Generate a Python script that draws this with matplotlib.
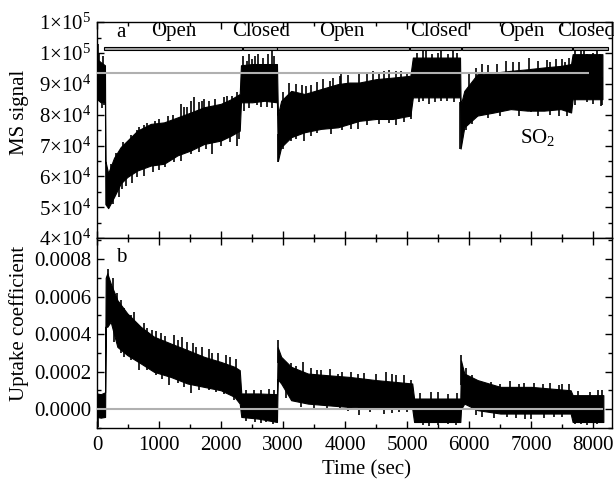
import matplotlib
matplotlib.use("Agg")
import matplotlib.pyplot as plt
import numpy as np
from matplotlib.patches import Rectangle

plt.rcParams['font.family'] = ['Liberation Serif', 'DejaVu Serif']
plt.rcParams['mathtext.fontset'] = 'custom'
plt.rcParams['mathtext.rm'] = 'Liberation Serif'
plt.rcParams['mathtext.it'] = 'Liberation Serif:italic'

# ---- data ----
# (a) MS signal envelope, in units of 1e4
t_ms = [0, 60, 128, 135, 180, 274, 382, 489, 650, 866, 1081, 1296, 1511, 1726, 1995,
        2161, 2300, 2320, 2500, 2700, 2900, 2915, 2968, 3129, 3344, 3613, 3882, 4065,
        4226, 4495, 4763, 5050, 5090, 5400, 5700, 5850, 5860, 5919, 6129, 6398, 6667,
        6935, 7204, 7473, 7640, 7665, 7900, 8145]
ms_hi = [9.8, 9.7, 9.6, 6.5, 6.1, 6.6, 6.95, 7.16, 7.48, 7.70, 7.75, 7.91, 8.07, 8.24,
         8.35, 8.50, 8.67, 9.60, 9.64, 9.64, 9.64, 8.0, 8.45, 8.77, 8.67, 8.83, 8.99,
         9.04, 9.04, 9.15, 9.20, 9.26, 9.85, 9.85, 9.85, 9.85, 8.3, 8.77, 9.31, 9.36,
         9.42, 9.47, 9.53, 9.58, 9.64, 9.96, 9.96, 9.96]
ms_lo = [8.5, 8.4, 8.4, 5.1, 4.97, 5.33, 5.77, 5.98, 6.19, 6.35, 6.41, 6.68, 6.84, 7.05,
         7.16, 7.32, 7.48, 8.40, 8.40, 8.45, 8.40, 6.5, 6.95, 7.27, 7.43, 7.54, 7.59,
         7.70, 7.80, 7.86, 7.86, 7.97, 8.56, 8.56, 8.56, 8.56, 6.9, 7.59, 7.97, 8.07,
         8.18, 8.13, 8.13, 8.18, 8.07, 8.50, 8.50, 8.50]
# spikes sticking out of the band (time, value)
ms_up_t = [20, 40, 100, 230, 300, 420, 540, 650, 677, 760, 811, 930, 1000, 1150, 1220,
           1350, 1400, 1450, 1511, 1565, 1640, 1685, 1726, 1800, 1900, 2048, 2100, 2180,
           2250, 2350, 2425, 2450, 2505, 2550, 2600, 2670, 2750, 2828, 2850, 3000, 3102,
           3200, 3300, 3371, 3450, 3550, 3650, 3747, 3800, 3909, 3930, 4050, 4226, 4350,
           4450, 4550, 4629, 4700, 4817, 4900, 5000, 5150, 5247, 5300, 5400, 5489, 5550,
           5650, 5731, 5800, 6000, 6100, 6204, 6300, 6450, 6591, 6700, 6800, 6968, 7100,
           7250, 7300, 7398, 7500, 7535, 7600, 7700, 7795, 7850, 7900, 7988, 8050, 8100]
ms_up_v = [10.3, 10.0, 9.9, 6.4, 6.75, 7.1, 7.35, 7.5, 7.6, 7.65, 7.72, 7.8, 7.85, 7.95,
           8.0, 8.35, 8.24, 8.25, 8.45, 8.56, 8.4, 8.45, 8.5, 8.45, 8.5, 8.56, 8.6, 8.6,
           8.75, 9.9, 9.75, 9.95, 9.8, 9.9, 9.95, 9.85, 9.95, 10.1, 9.9, 8.75, 9.04,
           9.0, 8.95, 8.93, 8.95, 9.05, 9.15, 9.1, 9.2, 9.26, 9.31, 9.3, 9.36, 9.35,
           9.4, 9.38, 9.42, 9.45, 9.42, 9.4, 9.31, 10.0, 10.1, 10.05, 9.95, 10.0, 10.05,
           9.95, 10.1, 10.0, 9.35, 9.5, 9.64, 9.6, 9.65, 9.74, 9.7, 9.72, 9.85, 9.75,
           9.78, 9.72, 9.8, 9.8, 9.7, 9.85, 10.05, 10.1, 10.05, 9.95, 10.0, 10.05, 9.95]
ms_dn_t = [80, 120, 250, 355, 400, 470, 560, 650, 750, 900, 1000, 1100, 1242, 1350, 1511,
           1645, 1750, 1855, 2000, 2150, 2260, 2290, 2370, 2450, 2585, 2650, 2747, 2820,
           2914, 3000, 3129, 3200, 3339, 3450, 3550, 3768, 3950, 4100, 4199, 4350, 4550,
           4700, 4817, 4950, 5059, 5194, 5250, 5355, 5450, 5550, 5645, 5750, 5855, 5950,
           6050, 6129, 6300, 6500, 6800, 6989, 7100, 7300, 7450, 7581, 7700, 7900, 8000,
           8118, 8145]
ms_dn_v = [8.2, 8.3, 5.1, 5.33, 5.6, 5.68, 5.8, 5.98, 6.0, 6.15, 6.2, 6.3, 6.46, 6.5,
           6.73, 6.78, 6.9, 6.74, 7.0, 7.1, 7.0, 7.2, 8.13, 8.2, 8.3, 8.25, 8.24, 8.2,
           6.46, 6.9, 7.16, 7.2, 7.16, 7.3, 7.4, 7.38, 7.5, 7.55, 7.54, 7.65, 7.7, 7.72,
           7.65, 7.75, 7.86, 8.4, 8.45, 8.35, 8.4, 8.45, 8.45, 8.4, 6.89, 7.5, 7.7, 7.91,
           7.9, 7.95, 7.95, 8.07, 7.95, 8.0, 7.95, 7.97, 8.3, 8.4, 8.35, 8.29, 8.3]
ms_ref = 9.35

# (b) uptake coefficient envelope, in units of 1e-4
t_up = [0, 60, 130, 140, 166, 220, 328, 489, 705, 919, 1188, 1457, 1726, 1995, 2215, 2300,
        2325, 2600, 2900, 2912, 2968, 3129, 3398, 3721, 4069, 4500, 5080, 5110, 5500,
        5855, 5866, 5919, 6134, 6500, 7000, 7633, 7665, 8160]
up_hi = [0.84, 0.80, 0.90, 7.0, 7.24, 6.70, 5.81, 5.10, 4.39, 3.86, 3.50, 3.15, 2.79,
         2.52, 2.26, 2.08, 0.84, 0.84, 0.80, 3.3, 2.79, 2.26, 1.90, 1.81, 1.72, 1.55,
         1.37, 0.57, 0.57, 0.57, 2.6, 1.90, 1.55, 1.19, 1.19, 1.01, 0.75, 0.75]
up_lo = [-0.41, -0.45, -0.41, 4.4, 4.39, 4.66, 3.32, 2.88, 2.44, 1.99, 1.72, 1.37, 1.19,
         1.01, 0.66, 0.30, -0.41, -0.50, -0.68, 1.6, 1.37, 0.48, 0.30, 0.21, 0.12, 0.04,
         0.04, -0.68, -0.68, -0.68, 0.0, 0.30, -0.05, -0.23, -0.23, -0.23, -0.68, -0.68]
up_up_t = [180, 250, 328, 380, 435, 550, 600, 650, 750, 811, 880, 950, 1027, 1100, 1242,
           1300, 1376, 1450, 1550, 1591, 1700, 1800, 1860, 1950, 2081, 2150, 2242, 2400,
           2537, 2650, 2770, 2850, 2914, 3050, 3129, 3200, 3317, 3450, 3550, 3613, 3750,
           3882, 3950, 4100, 4199, 4300, 4500, 4650, 4750, 4817, 4950, 5059, 5200, 5381,
           5500, 5650, 5800, 5866, 5950, 6050, 6237, 6350, 6500, 6650, 6800, 6882, 7050,
           7180, 7300, 7447, 7500, 7608, 7750, 7950, 8080, 8145]
up_up_v = [7.45, 7.0, 6.17, 5.8, 5.37, 5.0, 5.2, 4.48, 4.6, 4.3, 4.2, 4.15, 4.04, 3.9,
           3.95, 3.7, 3.86, 3.6, 3.5, 3.32, 3.3, 3.2, 2.97, 3.0, 2.88, 2.8, 2.7, 1.0,
           1.01, 1.05, 1.1, 1.0, 3.68, 2.5, 2.44, 2.3, 2.52, 2.2, 2.1, 2.08, 2.15,
           1.9, 2.0, 2.0, 1.9, 1.95, 1.9, 2.0, 1.85, 1.82, 1.8, 1.55, 0.85, 0.92,
           0.9, 0.8, 0.85, 2.88, 2.2, 1.8, 1.37, 1.45, 1.35, 1.5, 1.35, 1.4, 1.4,
           1.33, 1.4, 1.28, 1.35, 1.33, 0.95, 0.9, 1.0, 1.0]
up_dn_t = [10, 280, 380, 435, 550, 677, 800, 950, 1050, 1161, 1300, 1400, 1511, 1650, 1800,
           1914, 2050, 2200, 2400, 2550, 2650, 2720, 2833, 3050, 3290, 3500, 3700, 3909,
           4050, 4226, 4400, 4629, 4750, 4870, 5000, 5247, 5350, 5500, 5650, 5785, 6100,
           6210, 6400, 6613, 6750, 6900, 6989, 7200, 7366, 7500, 7700, 7795, 7900, 8050]
up_dn_v = [-0.94, 3.6, 3.0, 2.79, 2.6, 2.08, 2.1, 1.8, 1.6, 1.28, 1.4, 1.2, 0.84, 1.0,
           1.0, 0.92, 0.8, 0.5, -0.6, -0.7, -0.75, -0.68, -0.76, 0.6, 0.12, 0.05, 0.0,
           0.04, -0.1, -0.32, -0.15, -0.23, -0.2, -0.14, -0.15, -0.85, -0.9, -0.85, -0.8,
           -0.85, -0.3, -0.41, -0.45, -0.41, -0.45, -0.5, -0.5, -0.45, -0.41, -0.4, -0.8,
           -0.76, -0.85, -0.8]

# valve periods
phase_names = ['Open', 'Closed', 'Open', 'Closed', 'Open', 'Closed']
phase_start = [113, 2345, 2905, 5040, 5875, 7665]
phase_end = [2340, 2900, 5035, 5870, 7660, 8230]
phase_label_x = [1240, 2645, 3950, 5515, 6840, 7890]

ms_ticks = [4e4, 5e4, 6e4, 7e4, 8e4, 9e4, 1e5, 1.1e5]
ms_ticklabels = ['4×10$^4$', '5×10$^4$', '6×10$^4$', '7×10$^4$', '8×10$^4$',
                 '9×10$^4$', '1×10$^5$', '1×10$^5$']
up_ticks = [0.0, 0.0002, 0.0004, 0.0006, 0.0008]
up_ticklabels = ['0.0000', '0.0002', '0.0004', '0.0006', '0.0008']
x_ticks = [0, 1000, 2000, 3000, 4000, 5000, 6000, 7000, 8000]


def plotparams(ax):
    ax.minorticks_on()
    ax.xaxis.set_ticks_position('both')
    ax.yaxis.set_ticks_position('both')
    ax.tick_params(direction='in', which='both', labelsize=15)
    ax.tick_params('both', length=5, width=1, which='major')
    ax.tick_params('both', length=3, width=1, which='minor')
    ax.tick_params(axis='y', pad=4)
    ax.tick_params(axis='x', pad=6)
    for s in ax.spines.values():
        s.set_linewidth(1.0)
    return ax


def draw_band(ax, t, hi, lo, up_t, up_v, dn_t, dn_v, scale):
    t = np.array(t)
    hi = np.array(hi) * scale
    lo = np.array(lo) * scale
    ax.fill_between(t, lo, hi, color='black', lw=0.8, zorder=2)
    mid = (hi + lo) / 2
    ax.vlines(up_t, np.interp(up_t, t, mid), np.array(up_v) * scale,
              color='black', lw=1.2, zorder=2)
    ax.vlines(dn_t, np.array(dn_v) * scale, np.interp(dn_t, t, mid),
              color='black', lw=1.2, zorder=2)


fig = plt.figure(figsize=(6.14, 4.8), dpi=100)
ax1 = fig.add_axes([0.158, 0.504, 0.8388, 0.45])
ax2 = fig.add_axes([0.158, 0.1083, 0.8388, 0.396], sharex=ax1)

# top panel
draw_band(ax1, t_ms, ms_hi, ms_lo, ms_up_t, ms_up_v, ms_dn_t, ms_dn_v, 1e4)
ax1.hlines(ms_ref * 1e4, 0, 7935, color='#b0b0b0', lw=1.5, zorder=3)
for s, e in zip(phase_start, phase_end):
    ax1.add_patch(Rectangle((s, 1.01e5), e - s, 0.09e4, facecolor='#a8a8a8',
                            edgecolor='black', lw=0.8, zorder=4))
for name, x in zip(phase_names, phase_label_x):
    ax1.text(x, 1.068e5, name, ha='center', va='center', fontsize=15, clip_on=False)
ax1.text(390, 1.066e5, 'a', ha='center', va='center', fontsize=15)
ax1.text(7100, 7.26e4, 'SO$_2$', ha='center', va='center', fontsize=15)
ax1.set_ylim(4e4, 1.1e5)
ax1.set_yticks(ms_ticks)
ax1.set_yticklabels(ms_ticklabels)
ax1.set_ylabel('MS signal', fontsize=15)
ax1.yaxis.set_label_coords(-0.132, 0.58)
plotparams(ax1)
ax1.yaxis.set_minor_locator(matplotlib.ticker.MultipleLocator(5000))
plt.setp(ax1.get_xticklabels(), visible=False)

# bottom panel
draw_band(ax2, t_up, up_hi, up_lo, up_up_t, up_up_v, up_dn_t, up_dn_v, 1e-4)
ax2.hlines(0, 0, 8160, color='#b0b0b0', lw=1.5, zorder=3)
ax2.text(390, 0.00081, 'b', ha='center', va='center', fontsize=15)
ax2.set_ylim(-0.0001, 0.000912)
ax2.set_yticks(up_ticks)
ax2.set_yticklabels(up_ticklabels)
ax2.set_ylabel('Uptake coefficient', fontsize=15)
ax2.yaxis.set_label_coords(-0.132, 0.55)
ax2.set_xlim(0, 8300)
ax2.set_xticks(x_ticks)
ax2.set_xlabel('Time (sec)', fontsize=15)
ax2.xaxis.set_label_coords(0.524, -0.17)
plotparams(ax2)
ax2.yaxis.set_minor_locator(matplotlib.ticker.MultipleLocator(0.0001))
ax2.xaxis.set_minor_locator(matplotlib.ticker.MultipleLocator(500))

fig.savefig('out.png', dpi=100)
